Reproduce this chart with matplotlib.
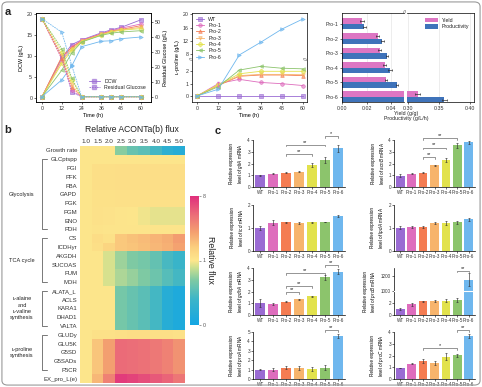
import numpy as np
import matplotlib
matplotlib.use("Agg")
import matplotlib.pyplot as plt
from matplotlib.colors import LinearSegmentedColormap, TwoSlopeNorm, to_rgba
from matplotlib.patches import FancyBboxPatch
from matplotlib.lines import Line2D
from matplotlib.transforms import blended_transform_factory

plt.rcParams['font.family'] = ['Liberation Sans', 'DejaVu Sans']
plt.rcParams['mathtext.fontset'] = 'custom'
plt.rcParams['mathtext.it'] = 'Liberation Sans:italic'
plt.rcParams['mathtext.rm'] = 'Liberation Sans'
plt.rcParams['axes.linewidth'] = 0.5
plt.rcParams['xtick.major.width'] = 0.5
plt.rcParams['ytick.major.width'] = 0.5
plt.rcParams['xtick.major.size'] = 1.5
plt.rcParams['ytick.major.size'] = 1.5
plt.rcParams['xtick.major.pad'] = 1.2
plt.rcParams['ytick.major.pad'] = 1.2
plt.rcParams['axes.labelpad'] = 1.5
plt.rcParams['text.color'] = '#222222'

# ---------------- data ----------------
strains = ['WT', 'Pro-1', 'Pro-2', 'Pro-3', 'Pro-4', 'Pro-5', 'Pro-6']
strain_colors = ['#9a6bd3', '#de6dbd', '#f47c52', '#f7b46c', '#e2e24c', '#8cc46c', '#6fb7ee']
strain_markers = ['s', 'o', '^', 'v', 'D', '<', '>']

# panel a, left: DCW and residual glucose
time_dcw = [0, 12, 18, 24, 36, 42, 48, 60]
dcw_wt = [0.3, 9.5, 12.7, 13.8, 15.5, 16.2, 16.8, 18.6]
dcw_p1 = [0.3, 9.0, 12.2, 13.7, 15.3, 16.0, 16.6, 17.6]
dcw_p2 = [0.3, 9.8, 12.0, 13.6, 15.2, 15.9, 16.3, 17.2]
dcw_p3 = [0.3, 8.8, 11.6, 13.5, 15.1, 15.8, 16.2, 16.8]
dcw_p4 = [0.3, 8.2, 11.3, 13.4, 15.0, 15.7, 16.1, 16.5]
dcw_p5 = [0.3, 6.6, 10.7, 13.3, 14.9, 15.4, 15.7, 16.0]
dcw_p6 = [0.3, 4.3, 7.6, 12.2, 13.5, 13.6, 14.1, 14.5]
dcw_all = [dcw_wt, dcw_p1, dcw_p2, dcw_p3, dcw_p4, dcw_p5, dcw_p6]

glc_wt = [52, 27, 3.0, 0, 0, 0, 0, 0]
glc_p1 = [52, 25, 4.5, 0, 0, 0, 0, 0]
glc_p2 = [52, 26, 6.5, 0, 0, 0, 0, 0]
glc_p3 = [52, 28, 8.0, 0, 0, 0, 0, 0]
glc_p4 = [52, 30, 11.0, 0, 0, 0, 0, 0]
glc_p5 = [52, 32, 12.5, 0, 0, 0, 0, 0]
glc_p6 = [52, 43, 21.0, 0, 0, 0, 0, 0]
glc_all = [glc_wt, glc_p1, glc_p2, glc_p3, glc_p4, glc_p5, glc_p6]

# panel a, middle: L-proline titre
time_pro = [0, 12, 24, 36, 48, 60]
pro_wt = [0, 0, 0, 0, 0, 0]
pro_p1 = [0, 1.0, 1.35, 1.1, 1.0, 0.85]
pro_p2 = [0, 0.85, 1.6, 1.7, 1.7, 1.65]
pro_p3 = [0, 0.9, 1.65, 1.75, 1.75, 1.72]
pro_p4 = [0, 0.9, 1.8, 2.0, 2.0, 2.0]
pro_p5 = [0, 0.75, 2.1, 2.4, 2.25, 2.2]
pro_p6 = [0, 0.55, 7.7, 11.5, 15.5, 18.6]
pro_all = [pro_wt, pro_p1, pro_p2, pro_p3, pro_p4, pro_p5, pro_p6]

# panel a, right: yield and productivity
yp_labels = ['Pro-1', 'Pro-2', 'Pro-3', 'Pro-4', 'Pro-5', 'Pro-6']
yield_vals = [0.0165, 0.029, 0.0307, 0.0347, 0.036, 0.316]
yield_err = [0.0015, 0.0015, 0.001, 0.0015, 0.001, 0.004]
prod_vals = [0.018, 0.033, 0.0368, 0.039, 0.045, 0.359]
prod_err = [0.0012, 0.0015, 0.001, 0.0015, 0.001, 0.004]

# panel b: relative flux heatmap
flux_cols = ['1.0', '1.5', '2.0', '2.5', '3.0', '3.5', '4.0', '4.5', '5.0']
flux_rows = ['Growth rate', 'GLCptspp', 'PGI', 'PFK', 'FBA', 'GAPD', 'PGK', 'PGM', 'ENO', 'PDH',
             'CS', 'ICDHyr', 'AKGDH', 'SUCOAS', 'FUM', 'MDH',
             'ALATA_L', 'ACLS', 'KARA1', 'DHAD1', 'VALTA',
             'GLUDy', 'GLU5K', 'G5SD', 'G5SADs', 'P5CR', 'EX_pro_L(e)']
flux_growth = [1.0, 1.0, 1.0, 0.72, 0.6, 0.54, 0.44, 0.26, 0.18]
flux_glc = [1.0] * 9
flux_upper = [1.0, 1.4, 1.4, 1.45, 1.45, 1.45, 1.45, 1.45, 1.45]
flux_gapd = [1.0, 1.3, 1.3, 1.35, 1.35, 1.35, 1.35, 1.35, 1.35]
flux_lower = [1.0, 1.25, 1.2, 1.1, 1.0, 0.97, 0.95, 0.95, 0.95]
flux_pdh = [1.0, 1.15, 1.1, 1.1, 1.1, 1.1, 1.1, 1.1, 1.1]
flux_cs = [1.0, 1.5, 1.3, 2.6, 2.9, 3.1, 3.3, 3.6, 4.2]
flux_icd = [1.0, 1.4, 2.0, 2.6, 2.8, 3.0, 3.2, 3.5, 4.0]
flux_akg = [1.0, 1.0, 0.92, 0.78, 0.7, 0.66, 0.58, 0.46, 0.38]
flux_fum = [1.0, 1.0, 0.92, 0.82, 0.76, 0.7, 0.62, 0.52, 0.44]
flux_val = [1.0, 1.0, 1.0, 0.66, 0.6, 0.54, 0.44, 0.2, 0.12]
flux_glud = [1.0, 1.3, 1.3, 1.4, 1.5, 1.5, 1.4, 1.4, 1.3]
flux_pro = [1.0, 2.7, 4.1, 6.0, 5.9, 5.8, 5.5, 5.2, 4.6]
flux_ex = [1.0, 3.2, 5.2, 7.6, 7.3, 7.0, 6.6, 6.2, 5.6]
flux = np.array([flux_growth, flux_glc, flux_upper, flux_upper, flux_upper, flux_gapd, flux_gapd,
                 flux_lower, flux_lower, flux_pdh, flux_cs, flux_icd, flux_akg, flux_akg,
                 flux_fum, flux_fum, flux_val, flux_val, flux_val, flux_val, flux_val,
                 flux_glud, flux_pro, flux_pro, flux_pro, flux_pro, flux_ex])
flux_groups = [('Glycolysis', 1, 9), ('TCA cycle', 10, 15),
               ('ʟ-alaine\nand\nʟ-valine\nsynthesis', 16, 20), ('ʟ-proline\nsynthesis', 21, 25)]

# panel c: qRT-PCR
gltA = [0.98, 1.13, 1.22, 1.3, 1.86, 2.29, 3.28]
gltA_err = [0.05, 0.04, 0.06, 0.05, 0.15, 0.25, 0.28]
acnB = [0.95, 1.12, 1.22, 1.85, 2.3, 3.55, 3.8]
acnB_err = [0.12, 0.04, 0.05, 0.04, 0.15, 0.22, 0.15]
icd = [1.01, 1.23, 1.25, 1.23, 1.25, 1.26, 1.52]
icd_err = [0.08, 0.12, 0.02, 0.04, 0.03, 0.02, 0.04]
lpdA = [1.02, 1.04, 1.03, 1.22, 1.22, 1.25, 1.38]
lpdA_err = [0.06, 0.03, 0.04, 0.03, 0.07, 0.06, 0.07]
gdhA = [1.0, 0.95, 1.12, 1.35, 1.58, 3.2, 3.7]
gdhA_err = [0.35, 0.1, 0.03, 0.04, 0.03, 0.2, 0.22]
proB = [1.0, 1.8, 2.3, 2.4, 2.45, 2.55, 1150]
proB_err = [0.15, 0.3, 0.15, 0.2, 0.2, 0.3, 80]
proA = [1.0, 1.0, 1.2, 1.2, 1.1, 1.2, 4.6]
proA_err = [0.03, 0.2, 0.15, 0.2, 0.2, 0.25, 0.2]
proC = [0.93, 1.28, 1.52, 1.38, 1.9, 2.02, 3.65]
proC_err = [0.03, 0.04, 0.18, 0.15, 0.3, 0.15, 0.2]

W, H = 482, 387


def box(l, t, r, b):
    return [l / W, 1 - b / H, (r - l) / W, (b - t) / H]


def style_ticks(ax, size=3.8):
    ax.tick_params(labelsize=size, colors='#333333', direction='out')


fig = plt.figure(figsize=(W / 100, H / 100), dpi=100)

# outer rounded frame
fig.add_artist(FancyBboxPatch((0.004, 0.005), 0.992, 0.99, boxstyle='round,pad=0,rounding_size=0.012',
                              transform=fig.transFigure, fill=False, ec='#9a9a9a', lw=0.8))

# ---------------- panel a left ----------------
ax1 = fig.add_axes(box(36, 13, 151, 102))
ax1r = ax1.twinx()
for i in range(len(strains)):
    c = strain_colors[i]
    ax1.plot(time_dcw, dcw_all[i], color=c, marker=strain_markers[i], ms=2.6, lw=0.6,
             mfc=to_rgba(c, 0.6), mec=c, mew=0.4)
    ax1r.plot(time_dcw, glc_all[i], color=c, marker=strain_markers[i], ms=2.6, lw=0.6, ls=(0, (2, 1)),
              mfc=to_rgba(c, 0.6), mec=c, mew=0.4)
ax1.set_xlim(-3.6, 66)
ax1.set_ylim(-0.95, 20.2)
ax1r.set_ylim(-3.5, 55.8)
ax1.set_xticks([0, 12, 24, 36, 48, 60])
ax1.set_yticks([0, 5, 10, 15, 20])
ax1r.set_yticks([0, 10, 20, 30, 40, 50])
ax1.set_xlabel('Time (h)', fontsize=4)
ax1.set_ylabel('DCW (g/L)', fontsize=4)
ax1r.set_ylabel('Residual Glucose (g/L)', fontsize=4)
style_ticks(ax1)
style_ticks(ax1r)
leg_h = [Line2D([], [], color=strain_colors[0], marker='s', ms=2.6, lw=0.6, mfc=to_rgba(strain_colors[0], 0.6)),
         Line2D([], [], color=strain_colors[0], marker='s', ms=2.6, lw=0.6, ls=(0, (2, 1)),
                mfc=to_rgba(strain_colors[0], 0.6))]
ax1r.legend(leg_h, ['DCW', 'Residual Glucose'], loc='lower right', bbox_to_anchor=(1.0, 0.08),
            fontsize=3.8, frameon=False, handlelength=2.2, labelspacing=0.3)

# ---------------- panel a middle (broken y) ----------------
K = 0.2667


def fwd_pro(y):
    y = np.asarray(y, dtype=float)
    return np.where(y <= 3, y, np.where(y <= 6.5, 3 + (y - 3) * 0.001, 3.0035 + (y - 6.5) * K))


def inv_pro(t):
    t = np.asarray(t, dtype=float)
    return np.where(t <= 3, t, np.where(t <= 3.0035, 3 + (t - 3) / 0.001, 6.5 + (t - 3.0035) / K))


ax2 = fig.add_axes(box(192, 13, 307, 102))
ax2.set_yscale('function', functions=(fwd_pro, inv_pro))
for i in range(len(strains)):
    c = strain_colors[i]
    ax2.plot(time_pro, pro_all[i], color=c, marker=strain_markers[i], ms=2.6, lw=0.6,
             mfc=to_rgba(c, 0.6), mec=c, mew=0.4, label=strains[i])
ax2.errorbar([12], [1.0], yerr=[0.15], fmt='none', ecolor=strain_colors[1], elinewidth=0.5, capsize=1)
ax2.set_xlim(-2.8, 62.3)
ax2.set_ylim(-0.48, 20.4)
ax2.set_xticks([0, 12, 24, 36, 48, 60])
ax2.set_yticks([0, 1, 2, 8, 12, 16, 20])
ax2.set_yticklabels(['0', '1', '2', '8', '12', '16', '20'])
ax2.set_xlabel('Time (h)', fontsize=4)
ax2.set_ylabel('ʟ-proline (g/L)', fontsize=4)
style_ticks(ax2)
ax2.legend(loc='upper left', fontsize=3.8, frameon=False, handlelength=1.6, labelspacing=0.25,
           borderaxespad=0.3)
for xb in (0, 1):
    ax2.text(xb, 3.0, '//', transform=ax2.get_yaxis_transform(), ha='center', va='center',
             fontsize=4, color='#444444', rotation=90)

# ---------------- panel a right (broken x) ----------------
axL = fig.add_axes(box(342, 13, 404, 102))
axR = fig.add_axes(box(406.5, 13, 474, 102))
ypos = np.arange(len(yp_labels))
bh = 0.38
for ax in (axL, axR):
    ax.barh(ypos - bh / 2, yield_vals, height=bh, color='#dd76c3', xerr=yield_err,
            error_kw=dict(elinewidth=0.5, capsize=1, capthick=0.5, ecolor='#333333'), zorder=2, label='Yield')
    ax.barh(ypos + bh / 2, prod_vals, height=bh, color='#3f73ba', xerr=prod_err,
            error_kw=dict(elinewidth=0.5, capsize=1, capthick=0.5, ecolor='#333333'), zorder=2,
            label='Productivity')
    ax.set_ylim(5.35, -0.75)
    ax.grid(axis='x', color='#e6e6e6', lw=0.5, zorder=0)
    style_ticks(ax)
axL.set_xlim(0, 0.0506)
axR.set_xlim(0.2984, 0.4063)
axL.set_xticks([0.0, 0.02, 0.04])
axL.set_xticklabels(['0.00', '0.02', '0.04'])
axR.set_xticks([0.30, 0.35, 0.40])
axR.set_xticklabels(['0.30', '0.35', '0.40'])
axL.set_yticks(ypos)
axL.set_yticklabels(yp_labels)
axR.set_yticks([])
axL.spines['right'].set_visible(False)
axR.spines['left'].set_visible(False)
axR.legend(loc='upper right', fontsize=3.8, frameon=False, handlelength=2.4, handleheight=1.0,
           labelspacing=0.2, borderaxespad=0.5)
fig.text(404.5 / W, 1 - 13 / H, '//', ha='center', va='center', fontsize=4, color='#444444')
fig.text(406 / W, 1 - 113.5 / H, 'Yield (g/g)', ha='center', va='center', fontsize=3.8)
fig.text(406 / W, 1 - 118.5 / H, 'Productivity (g/L/h)', ha='center', va='center', fontsize=3.8)

# ---------------- panel b heatmap ----------------
cmap = LinearSegmentedColormap.from_list('flux', [
    (0.0, '#14a6e3'), (0.2, '#3cb5c8'), (0.35, '#7fcaa3'), (0.45, '#cfe08f'), (0.5, '#fde68c'),
    (0.6, '#fbcf7e'), (0.72, '#f4a070'), (0.85, '#ec6f78'), (1.0, '#e0307c')])
norm = TwoSlopeNorm(vmin=0, vcenter=1, vmax=8)
axh = fig.add_axes(box(80, 146, 185, 383))
im = axh.imshow(flux, cmap=cmap, norm=norm, aspect='auto', interpolation='nearest')
axh.xaxis.tick_top()
axh.set_xticks(np.arange(len(flux_cols)))
axh.set_xticklabels(flux_cols)
axh.set_yticks(np.arange(len(flux_rows)))
axh.set_yticklabels(flux_rows)
axh.tick_params(length=0, labelsize=4.3, pad=2, colors='#333333')
axh.tick_params(axis='x', labelsize=4.6, pad=1.5)
for s in axh.spines.values():
    s.set_visible(False)
fig.text(132 / W, 1 - 130 / H, 'Relative ACONTa(b) flux', ha='center', va='center', fontsize=6.2)

blend = blended_transform_factory(fig.transFigure, axh.transData)
x_line, x_tick = 41.5 / W, 47 / W
for label, r1, r2 in flux_groups:
    fig.add_artist(Line2D([x_tick, x_line, x_line, x_tick], [r1, r1, r2, r2], transform=blend,
                          color='#444444', lw=0.5))
    fig.text(22 / W, (r1 + r2) / 2, label, transform=blend, ha='center', va='center',
             fontsize=4.1, linespacing=1.35)

cax = fig.add_axes(box(190, 196, 199, 325))
cb = fig.colorbar(im, cax=cax, ticks=[0, 1, 8])
cb.outline.set_visible(False)
cax.tick_params(labelsize=3.8, length=1.2, width=0.4, colors='#555555', pad=1.2)
fig.text(211 / W, 1 - 260 / H, 'Relative flux', rotation=270, ha='center', va='center', fontsize=6.3)

# ---------------- panel c bars ----------------
def fwd_pb(y):
    y = np.asarray(y, dtype=float)
    return np.where(y <= 4, y, np.where(y <= 1000, 4 + (y - 4) * 1e-6, 4.001 + (y - 1000) * 0.01333))


def inv_pb(t):
    t = np.asarray(t, dtype=float)
    return np.where(t <= 4, t, np.where(t <= 4.001, 4 + (t - 4) / 1e-6, 1000 + (t - 4.001) / 0.01333))


def sig(ax, i, j, y, s, d):
    ax.plot([i, i, j, j], [y - d, y, y, y - d], color='#444444', lw=0.4, clip_on=False)
    ax.text((i + j) / 2, y, s, ha='center', va='bottom', fontsize=4, clip_on=False)


panels_c = [
    ((253, 140, 345, 187), 'gltA', gltA, gltA_err, 4, [0, 1, 2, 3, 4],
     [(2, 4, 2.78, '**'), (2, 5, 3.6, '**'), (5, 6, 4.32, '*')]),
    ((394, 140, 475, 187), 'acnB', acnB, acnB_err, 4, [0, 1, 2, 3, 4],
     [(2, 3, 2.55, '**'), (2, 4, 3.36, '**'), (2, 5, 4.17, '**')]),
    ((253, 205, 345, 251), 'icd', icd, icd_err, 2, [0, 1, 2], []),
    ((394, 205, 475, 251), 'lpdA', lpdA, lpdA_err, 2, [0, 1, 2], []),
    ((253, 268, 345, 315), 'gdhA', gdhA, gdhA_err, 4, [0, 1, 2, 3, 4],
     [(2, 3, 1.93, '**'), (2, 4, 2.44, '**'), (2, 5, 3.57, '**'), (5, 6, 4.26, '**')]),
    ((394, 268, 475, 315), 'proB', proB, proB_err, 1300, [0, 2, 1000, 1200],
     [(5, 6, 1265, '**')]),
    ((253, 332, 345, 379), 'proA', proA, proA_err, 5, [0, 1, 2, 3, 4, 5], [(5, 6, 5.17, '**')]),
    ((394, 332, 475, 379), 'proC', proC, proC_err, 4, [0, 1, 2, 3, 4],
     [(2, 5, 2.65, '*'), (5, 6, 4.15, '**')]),
]
xb = np.arange(len(strains))
for pos, gene, vals, errs, ytop, yt, brackets in panels_c:
    ax = fig.add_axes(box(*pos))
    if gene == 'proB':
        ax.set_yscale('function', functions=(fwd_pb, inv_pb))
    ax.bar(xb, vals, width=0.75, color=strain_colors, yerr=errs,
           error_kw=dict(elinewidth=0.45, capsize=1, capthick=0.45, ecolor='#333333'), zorder=2)
    if gene == 'proB':
        ax.axhline(1000, color='white', lw=0.8, zorder=3)
        d = 12
    else:
        d = ytop * 0.035
    ax.set_xlim(-0.55, 6.55)
    ax.set_ylim(0, ytop)
    ax.set_yticks(yt)
    ax.set_xticks(xb)
    ax.set_xticklabels(strains)
    ax.spines['top'].set_visible(False)
    ax.spines['right'].set_visible(False)
    ax.tick_params(labelsize=3.3, colors='#333333', length=1.2, pad=1)
    ax.set_ylabel('Relative expression\nlevel of $\\it{' + gene + '}$ mRNA', fontsize=3.3,
                  labelpad=2, linespacing=1.2)
    for i, j, y, s in brackets:
        sig(ax, i, j, y, s, d)

# panel letters
fig.text(8 / W, 1 - 12 / H, 'a', fontsize=8, fontweight='bold', ha='center', va='center')
fig.text(8 / W, 1 - 130 / H, 'b', fontsize=8, fontweight='bold', ha='center', va='center')
fig.text(218 / W, 1 - 131 / H, 'c', fontsize=8, fontweight='bold', ha='center', va='center')

fig.savefig('out.png', dpi=100)
